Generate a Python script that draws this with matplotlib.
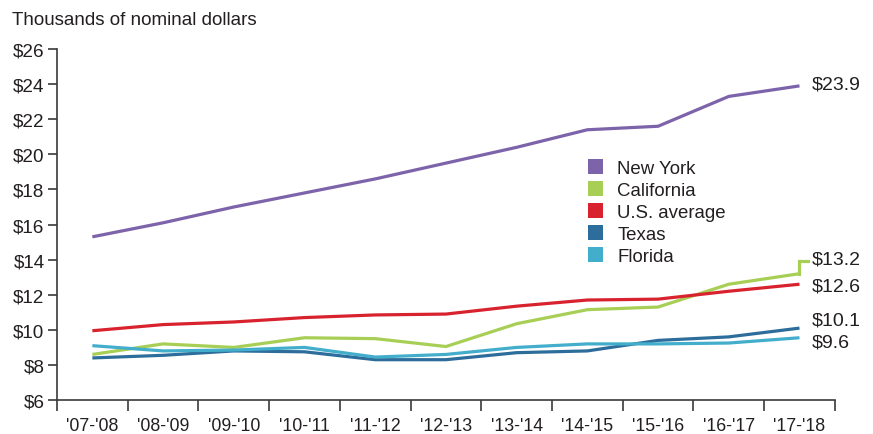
import matplotlib.pyplot as plt
from matplotlib.patches import Patch

plt.rcParams['font.family'] = ['Liberation Sans', 'DejaVu Sans']

years = ["'07-'08", "'08-'09", "'09-'10", "'10-'11", "'11-'12", "'12-'13",
         "'13-'14", "'14-'15", "'15-'16", "'16-'17", "'17-'18"]

new_york = [15.3, 16.1, 17.0, 17.8, 18.6, 19.5, 20.4, 21.4, 21.6, 23.3, 23.9]
california = [8.6, 9.2, 9.0, 9.55, 9.5, 9.05, 10.35, 11.15, 11.3, 12.6, 13.2]
us_average = [9.95, 10.3, 10.45, 10.7, 10.85, 10.9, 11.35, 11.7, 11.75, 12.2, 12.6]
texas = [8.4, 8.55, 8.8, 8.75, 8.3, 8.3, 8.7, 8.8, 9.4, 9.6, 10.1]
florida = [9.1, 8.8, 8.85, 9.0, 8.45, 8.6, 9.0, 9.2, 9.2, 9.25, 9.55]

names = ['New York', 'California', 'U.S. average', 'Texas', 'Florida']
series = [new_york, california, us_average, texas, florida]
colors = ['#7D63A9', '#A8CF55', '#D8232F', '#2D6D9B', '#43AECB']
end_labels = ['$23.9', '$13.2', '$12.6', '$10.1', '$9.6']
label_y = [24.0, 14.05, 12.5, 10.55, 9.3]
connector_y = 13.92

txt = '#231F20'
axc = '#3A3A3A'

fig = plt.figure(figsize=(8.73, 4.35), dpi=100)
ax = fig.add_axes([0.0653, 0.078, 0.891, 0.807])

x = list(range(len(years)))
for vals, c in zip(series, colors):
    ax.plot(x, vals, color=c, lw=2.3, solid_capstyle='butt', solid_joinstyle='miter')

# California label connector
last = len(years) - 1
ax.plot([last, last, last + 0.12], [california[-1], connector_y, connector_y],
        color=colors[1], lw=2.3, solid_joinstyle='miter')

for lab, ly in zip(end_labels, label_y):
    ax.annotate(lab, (last, ly), xytext=(9, 0), textcoords='offset points',
                va='center', ha='left', fontsize=14, color=txt,
                annotation_clip=False)

ax.set_xlim(-0.5, len(years) - 0.5)
ax.set_ylim(6, 26)
ax.set_yticks(range(6, 27, 2))
ax.set_yticklabels(['$%d' % v for v in range(6, 27, 2)])

ax.set_xticks([i - 0.5 for i in range(len(years) + 1)])
ax.set_xticklabels([])
ax.set_xticks(x, minor=True)
ax.set_xticklabels(years, minor=True)
ax.tick_params(axis='x', which='major', length=8, width=1.2, color=axc)
ax.tick_params(axis='x', which='minor', length=0, pad=12, labelsize=12.8, labelcolor=txt)
ax.tick_params(axis='y', length=6.5, width=1.2, color=axc, labelsize=13.6, labelcolor=txt, pad=2.5)

for s in ['top', 'right']:
    ax.spines[s].set_visible(False)
for s in ['left', 'bottom']:
    ax.spines[s].set_color(axc)
    ax.spines[s].set_linewidth(1.2)

fig.text(0.014, 0.952, 'Thousands of nominal dollars', fontsize=13.5, color=txt, va='center')

handles = [Patch(facecolor=c, edgecolor='none') for c in colors]
ax.legend(handles, names, loc='upper left', bbox_to_anchor=(0.673, 0.632),
          bbox_transform=fig.transFigure, frameon=False, fontsize=13.4,
          handlelength=0.85, handleheight=0.85, handletextpad=0.75,
          labelspacing=0.22, borderaxespad=0, borderpad=0, labelcolor=txt)

fig.savefig('out.png', dpi=100)
